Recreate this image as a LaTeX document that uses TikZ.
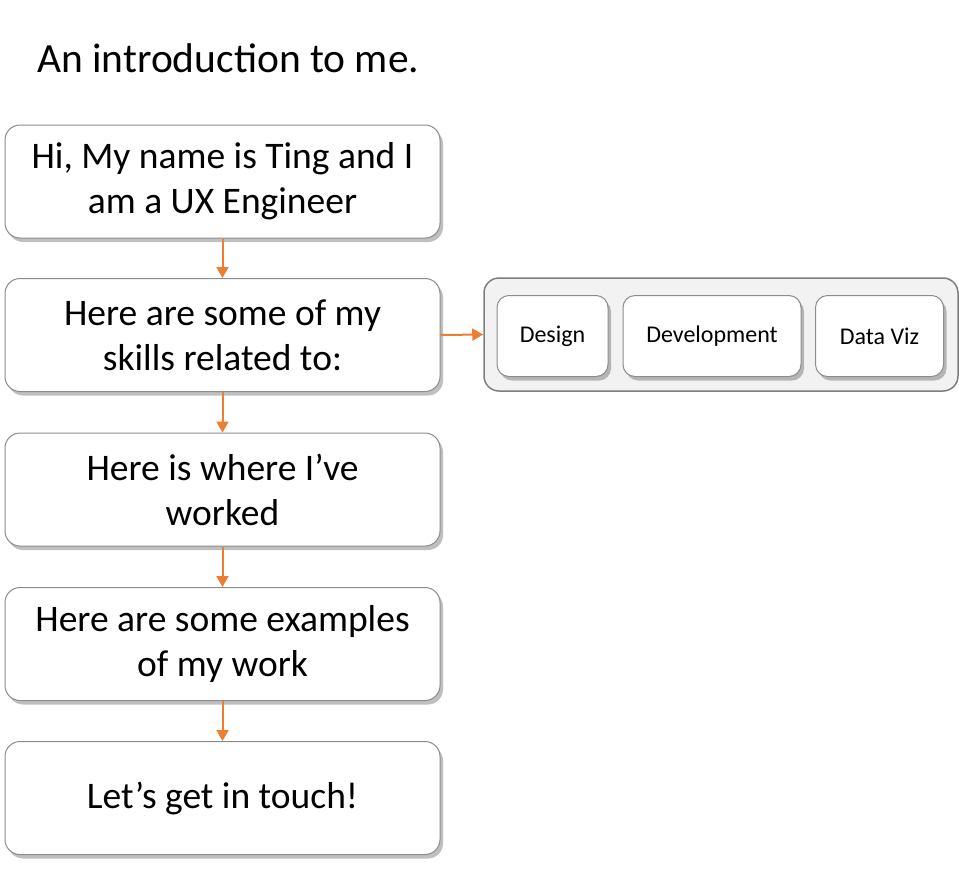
\documentclass[tikz,border=0pt]{standalone}
\usepackage{fontspec}
\setmainfont{Carlito}
\usetikzlibrary{shadows,arrows.meta}
\definecolor{accent}{HTML}{ED7D31}
\definecolor{boxline}{HTML}{8C8C8C}
\definecolor{panel}{HTML}{F2F2F2}
\tikzset{
  mainbox/.style={draw=boxline, line width=1pt, fill=white, rounded corners=15pt,
    minimum width=435pt, minimum height=113pt, align=center, inner sep=0pt,
    font=\fontsize{37.5}{45}\selectfont,
    drop shadow={shadow xshift=3pt, shadow yshift=-4pt, fill=black, opacity=0.25}},
  smallbox/.style={draw=boxline, line width=1pt, fill=white, rounded corners=12pt,
    minimum height=81pt, align=center, inner sep=0pt,
    font=\fontsize{24}{28}\selectfont,
    drop shadow={shadow xshift=3pt, shadow yshift=-4pt, fill=black, opacity=0.25}},
  panelbox/.style={draw=boxline!90!black, line width=1.5pt, fill=panel, rounded corners=15pt,
    minimum width=474pt, minimum height=113pt, inner sep=0pt},
  flow/.style={draw=accent, line width=2pt, -{Triangle[width=12pt,length=11pt]}}
}
\begin{document}
\begin{tikzpicture}[x=1pt,y=1pt]
\useasboundingbox (0,0) rectangle (959,-868);
\node[anchor=base west, inner sep=0pt, font=\fontsize{41.5}{48}\selectfont] (title) at (37,-72) {An introduction to me.};
\node[mainbox] (b1) at (222.5,-181.5) {Hi, My name is Ting and I\\am a UX Engineer};
\node[mainbox] (b2) at (222.5,-335) {Here are some of my\\skills related to:};
\node[mainbox] (b3) at (222.5,-489.5) {Here is where I’ve\\worked};
\node[mainbox] (b4) at (222.5,-644) {Here are some examples\\of my work};
\node[mainbox] (b5) at (222.5,-798) {Let’s get in touch!};
\node[panelbox] (panel) at (721,-334.5) {};
\node[smallbox, minimum width=111pt] (design) at (552.5,-336) {Design};
\node[smallbox, minimum width=178pt] (dev) at (712,-336) {Development};
\node[smallbox, minimum width=128pt] (viz) at (879.5,-336) {Data Viz};
\draw[flow] (b1.south) -- (b2.north);
\draw[flow] (b2.south) -- (b3.north);
\draw[flow] (b3.south) -- (b4.north);
\draw[flow] (b4.south) -- (b5.north);
\draw[flow] (b2.east) -- (panel.west);
\end{tikzpicture}
\end{document}
